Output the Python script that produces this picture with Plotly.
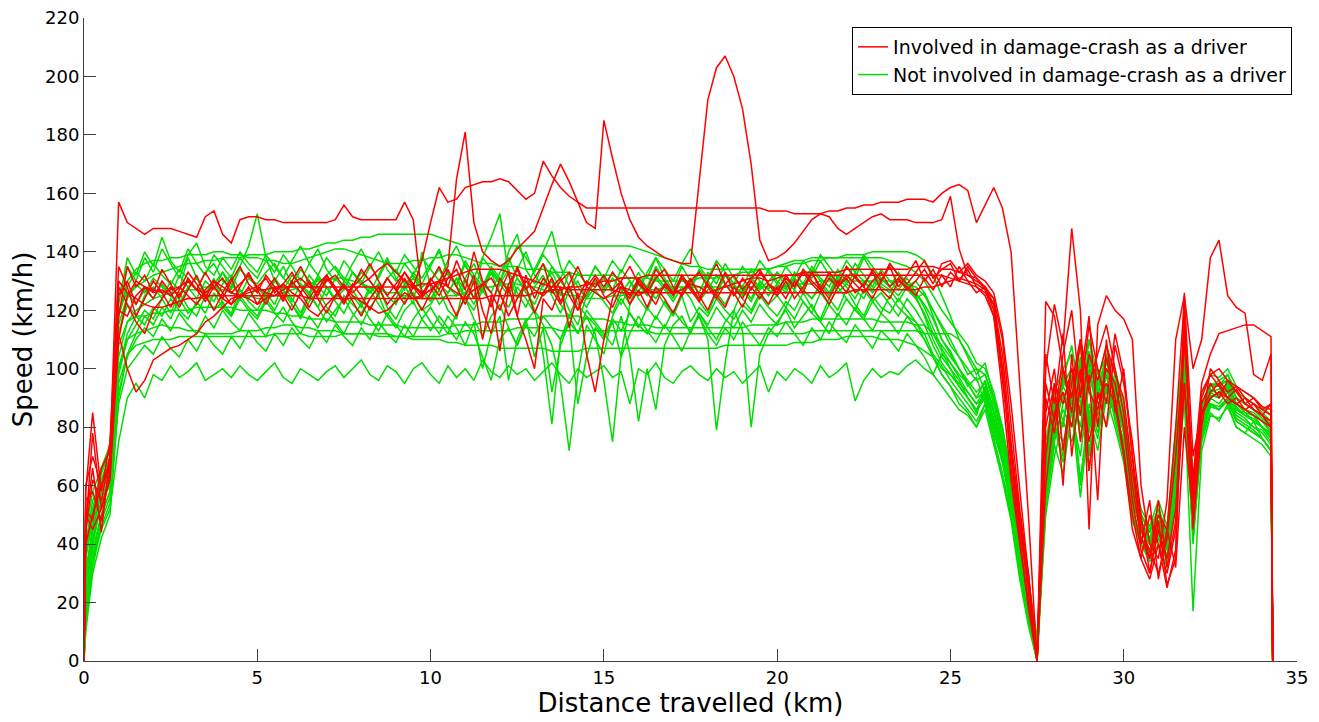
import plotly.graph_objects as go

# Distance grid (km): 0, 0.05, then every 0.25 km up to 34.25, then 34.3
DIST = [0.0, 0.05] + [round(0.25 * i, 2) for i in range(1, 138)] + [34.3]
ROW_LEN = [21, 20, 20, 20, 20, 20, 19]

# ---- speeds (km/h), rows: 0-4.75 | 5-9.75 | 10-14.75 | 15-19.75 | 20-24.75 | 25-29.75 | 30-34.3
green_1 = [
    [0, 15, 35, 45, 52, 75, 90, 95, 90, 98, 96, 101, 97, 99, 102, 96, 98, 100, 97, 101, 98],
    [96, 99, 102, 97, 95, 100, 98, 96, 99, 101, 97, 100, 103, 98, 96, 101, 99, 95, 100, 102],
    [98, 95, 101, 97, 100, 96, 103, 99, 97, 101, 98, 100, 96, 99, 102, 98, 95, 100, 97, 99],
    [101, 97, 99, 88, 100, 98, 102, 97, 95, 99, 101, 98, 96, 100, 97, 99, 95, 98, 101, 92],
    [99, 96, 100, 98, 95, 101, 97, 99, 102, 89, 96, 100, 97, 99, 98, 101, 103, 100, 98, 105],
    [102, 98, 95, 90, 92, 85, 75, 60, 40, 20, 5, 60, 80, 75, 85, 70, 95, 80, 90, 85],
    [75, 55, 45, 40, 48, 38, 60, 95, 50, 75, 85, 82, 88, 80, 78, 82, 76, 72, 0],
]
green_2 = [
    [0, 20, 38, 50, 58, 95, 105, 108, 109, 110, 110, 110, 111, 111, 111, 111, 111, 111, 111, 111, 111],
    [111, 111, 112, 112, 112, 112, 111, 111, 111, 111, 112, 112, 112, 112, 112, 112, 111, 111, 111, 111],
    [111, 111, 112, 112, 113, 113, 113, 113, 113, 113, 114, 114, 114, 114, 114, 113, 113, 113, 113, 113],
    [113, 113, 113, 113, 113, 113, 112, 112, 112, 112, 112, 112, 112, 112, 112, 112, 112, 112, 112, 112],
    [112, 112, 112, 112, 113, 113, 113, 113, 113, 113, 113, 113, 113, 113, 113, 113, 113, 112, 112, 112],
    [112, 110, 105, 100, 98, 90, 80, 62, 45, 28, 8, 55, 75, 88, 92, 80, 100, 85, 95, 90],
    [80, 60, 50, 45, 52, 40, 70, 105, 55, 85, 90, 92, 95, 88, 85, 84, 80, 78, 0],
]
green_3 = [
    [0, 25, 42, 55, 64, 100, 110, 112, 113, 114, 115, 114, 114, 113, 113, 112, 112, 112, 112, 113, 113],
    [113, 114, 114, 115, 115, 114, 114, 113, 113, 113, 112, 112, 112, 112, 111, 111, 111, 111, 110, 110],
    [110, 110, 109, 109, 108, 108, 108, 108, 107, 107, 107, 107, 107, 107, 106, 106, 106, 106, 107, 107],
    [107, 107, 107, 107, 107, 107, 107, 107, 107, 107, 107, 107, 107, 107, 108, 108, 108, 108, 108, 108],
    [108, 108, 109, 109, 109, 110, 110, 110, 111, 111, 111, 111, 110, 110, 110, 109, 108, 106, 104, 100],
    [98, 95, 92, 88, 90, 80, 70, 55, 35, 18, 3, 50, 70, 82, 75, 88, 65, 92, 80, 95],
    [70, 52, 42, 38, 45, 35, 55, 90, 45, 80, 88, 86, 90, 85, 83, 80, 78, 74, 0],
]
green_4 = [
    [0, 30, 45, 58, 66, 108, 116, 118, 118, 119, 119, 120, 120, 120, 121, 121, 121, 121, 121, 120, 120],
    [120, 120, 119, 119, 118, 118, 117, 117, 117, 116, 116, 116, 116, 115, 115, 115, 115, 114, 114, 114],
    [114, 114, 114, 115, 115, 115, 116, 116, 116, 117, 117, 117, 117, 118, 118, 118, 118, 118, 117, 117],
    [117, 116, 116, 115, 115, 115, 114, 114, 114, 114, 114, 114, 114, 114, 114, 114, 114, 115, 115, 115],
    [115, 116, 116, 116, 117, 117, 117, 117, 117, 117, 117, 117, 116, 116, 116, 116, 115, 115, 112, 108],
    [104, 100, 96, 92, 95, 85, 72, 58, 40, 22, 2, 65, 88, 95, 100, 92, 105, 90, 98, 95],
    [82, 58, 48, 42, 50, 42, 75, 110, 60, 88, 95, 94, 98, 92, 90, 88, 85, 82, 0],
]
green_5 = [
    [0, 40, 55, 60, 70, 112, 122, 118, 125, 128, 124, 130, 127, 138, 131, 126, 129, 133, 127, 135, 142],
    [153, 138, 130, 127, 132, 129, 125, 131, 128, 124, 127, 133, 130, 126, 129, 125, 122, 128, 131, 127],
    [124, 129, 133, 128, 125, 131, 127, 122, 129, 134, 126, 121, 128, 132, 125, 119, 127, 130, 124, 128],
    [131, 126, 122, 128, 133, 127, 124, 129, 126, 131, 128, 123, 127, 132, 129, 125, 128, 124, 130, 127],
    [125, 129, 131, 127, 124, 128, 132, 126, 129, 127, 124, 130, 128, 126, 131, 127, 124, 126, 120, 115],
    [110, 104, 98, 100, 92, 88, 78, 62, 42, 25, 4, 72, 90, 82, 98, 76, 104, 88, 92, 84],
    [76, 56, 44, 40, 46, 38, 68, 102, 52, 82, 92, 90, 94, 87, 84, 83, 80, 77, 0],
]
green_6 = [
    [0, 10, 30, 42, 50, 90, 105, 112, 118, 115, 121, 117, 124, 119, 122, 126, 120, 123, 118, 125, 121],
    [118, 124, 120, 126, 122, 117, 123, 127, 121, 118, 125, 122, 119, 124, 128, 121, 117, 123, 126, 120],
    [122, 127, 120, 117, 131, 124, 138, 145, 153, 132, 124, 128, 120, 115, 108, 95, 72, 98, 115, 110],
    [105, 118, 124, 119, 114, 121, 117, 123, 119, 125, 116, 121, 118, 124, 120, 117, 122, 119, 125, 121],
    [118, 123, 120, 126, 121, 117, 124, 120, 127, 122, 118, 125, 121, 119, 124, 120, 116, 112, 105, 101],
    [96, 92, 88, 84, 94, 80, 70, 52, 32, 15, 0, 58, 78, 92, 84, 100, 72, 90, 105, 88],
    [72, 50, 40, 36, 42, 34, 60, 98, 40, 78, 90, 88, 92, 84, 82, 80, 79, 75, 0],
]
green_7 = [
    [0, 35, 48, 62, 68, 118, 128, 133, 130, 136, 132, 129, 134, 131, 127, 133, 136, 130, 128, 134, 131],
    [129, 133, 136, 131, 128, 134, 130, 127, 132, 135, 131, 128, 133, 130, 126, 131, 134, 129, 132, 128],
    [130, 134, 128, 125, 131, 136, 129, 126, 133, 138, 131, 127, 134, 140, 147, 135, 128, 122, 118, 112],
    [96, 75, 105, 122, 130, 126, 132, 128, 124, 131, 127, 133, 129, 125, 132, 128, 126, 131, 127, 130],
    [133, 128, 131, 127, 134, 130, 126, 132, 129, 133, 130, 127, 131, 128, 125, 129, 126, 122, 117, 110],
    [105, 100, 94, 97, 88, 82, 72, 56, 38, 20, 2, 68, 86, 96, 90, 108, 82, 100, 92, 98],
    [84, 62, 50, 44, 52, 44, 72, 108, 58, 86, 94, 96, 98, 90, 88, 86, 83, 80, 0],
]
green_8 = [
    [0, 38, 52, 65, 72, 120, 126, 122, 127, 124, 129, 125, 122, 128, 131, 126, 123, 129, 132, 127, 124],
    [128, 125, 131, 127, 123, 129, 126, 132, 128, 124, 130, 127, 122, 128, 125, 131, 127, 124, 129, 126],
    [123, 129, 126, 131, 127, 122, 128, 134, 129, 125, 131, 126, 122, 129, 133, 127, 120, 115, 125, 130],
    [126, 131, 127, 122, 129, 125, 131, 127, 123, 128, 124, 118, 110, 79, 102, 120, 127, 123, 129, 125],
    [129, 126, 131, 127, 124, 129, 125, 131, 128, 124, 130, 126, 129, 127, 123, 128, 124, 119, 112, 106],
    [100, 96, 90, 86, 90, 78, 68, 54, 36, 18, 1, 64, 84, 90, 96, 84, 98, 86, 100, 90],
    [78, 54, 46, 40, 50, 40, 65, 100, 48, 80, 90, 92, 93, 86, 85, 82, 80, 76, 0],
]
green_9 = [
    [0, 22, 40, 55, 60, 100, 112, 118, 115, 121, 118, 124, 120, 117, 123, 119, 126, 121, 118, 124, 120],
    [117, 123, 119, 116, 122, 118, 125, 121, 116, 120, 124, 119, 115, 121, 125, 118, 114, 120, 123, 117],
    [121, 116, 112, 119, 124, 117, 111, 118, 122, 114, 108, 116, 120, 105, 81, 110, 118, 112, 120, 116],
    [112, 108, 118, 105, 82, 100, 86, 108, 115, 118, 112, 119, 114, 110, 116, 120, 113, 80, 105, 112],
    [116, 120, 114, 118, 122, 116, 112, 119, 115, 121, 117, 113, 119, 116, 112, 118, 114, 110, 104, 98],
    [94, 90, 86, 82, 88, 76, 64, 50, 30, 14, 0, 62, 82, 70, 92, 60, 88, 78, 95, 86],
    [74, 52, 42, 38, 44, 36, 62, 96, 44, 78, 88, 87, 90, 83, 81, 79, 76, 72, 0],
]
green_10 = [
    [0, 36, 50, 62, 70, 115, 125, 128, 130, 132, 133, 134, 135, 136, 136, 137, 137, 138, 138, 138, 139],
    [139, 139, 140, 140, 140, 141, 141, 142, 143, 143, 144, 144, 145, 145, 146, 146, 146, 146, 146, 146],
    [146, 145, 144, 143, 142, 142, 142, 142, 142, 142, 142, 142, 142, 142, 142, 142, 142, 142, 142, 142],
    [142, 142, 142, 142, 141, 140, 139, 138, 137, 136, 135, 135, 134, 134, 134, 134, 134, 134, 134, 134],
    [135, 136, 137, 137, 138, 138, 138, 138, 138, 138, 138, 138, 138, 137, 136, 135, 133, 130, 125, 120],
    [116, 112, 108, 102, 100, 92, 80, 64, 44, 24, 3, 75, 92, 100, 105, 96, 110, 98, 104, 100],
    [88, 64, 52, 46, 55, 46, 78, 112, 62, 92, 98, 97, 100, 94, 92, 90, 87, 84, 0],
]
green_11 = [
    [0, 30, 46, 60, 68, 118, 130, 134, 136, 137, 137, 138, 138, 139, 139, 139, 140, 140, 139, 139, 138],
    [138, 137, 137, 136, 136, 137, 138, 139, 140, 141, 141, 140, 139, 138, 137, 136, 136, 136, 137, 137],
    [138, 138, 139, 139, 138, 137, 136, 136, 135, 135, 135, 134, 134, 134, 133, 133, 133, 132, 132, 132],
    [132, 132, 131, 131, 131, 131, 130, 130, 130, 130, 130, 131, 131, 131, 132, 132, 133, 133, 134, 134],
    [135, 135, 136, 136, 137, 137, 138, 138, 139, 139, 139, 140, 140, 140, 140, 140, 139, 137, 132, 125],
    [118, 110, 104, 98, 102, 90, 78, 60, 40, 22, 2, 70, 88, 94, 100, 88, 106, 94, 100, 96],
    [86, 60, 50, 44, 52, 42, 72, 106, 56, 88, 94, 95, 96, 90, 88, 86, 84, 81, 0],
]
green_12 = [
    [0, 44, 58, 66, 74, 125, 135, 130, 138, 133, 141, 136, 131, 139, 143, 135, 132, 138, 134, 140, 136],
    [133, 139, 135, 131, 137, 142, 136, 132, 138, 134, 130, 136, 141, 135, 131, 137, 133, 139, 135, 131],
    [136, 140, 133, 129, 137, 132, 128, 135, 131, 127, 134, 140, 132, 128, 135, 130, 126, 133, 129, 135],
    [131, 127, 134, 130, 126, 133, 138, 131, 127, 135, 130, 126, 133, 129, 136, 131, 128, 134, 130, 127],
    [133, 130, 127, 134, 131, 137, 132, 128, 135, 131, 138, 133, 129, 136, 132, 128, 130, 126, 118, 110],
    [106, 100, 95, 90, 96, 86, 74, 58, 38, 20, 2, 66, 84, 98, 88, 104, 80, 96, 108, 92],
    [80, 58, 48, 42, 48, 40, 70, 104, 54, 84, 93, 91, 95, 88, 86, 84, 82, 78, 0],
]
green_13 = [
    [0, 18, 36, 50, 58, 98, 110, 115, 120, 117, 124, 119, 126, 121, 118, 125, 131, 122, 119, 127, 123],
    [120, 126, 122, 129, 124, 119, 126, 121, 128, 123, 119, 125, 121, 127, 122, 118, 124, 129, 122, 140],
    [128, 122, 126, 131, 124, 120, 127, 133, 125, 121, 128, 124, 119, 126, 130, 122, 118, 125, 121, 127],
    [123, 119, 126, 130, 124, 120, 127, 122, 118, 125, 129, 123, 119, 126, 122, 128, 124, 120, 126, 122],
    [125, 121, 127, 123, 119, 126, 122, 128, 124, 120, 127, 123, 126, 122, 118, 124, 120, 115, 108, 102],
    [98, 94, 90, 85, 91, 80, 68, 52, 34, 16, 1, 56, 76, 86, 80, 94, 70, 86, 98, 82],
    [70, 50, 42, 36, 44, 35, 58, 94, 42, 76, 87, 86, 89, 82, 80, 78, 76, 72, 0],
]
green_14 = [
    [0, 28, 44, 58, 64, 112, 124, 129, 126, 131, 128, 125, 132, 128, 124, 130, 127, 133, 129, 125, 131],
    [128, 124, 130, 135, 129, 126, 132, 128, 125, 131, 127, 133, 129, 126, 132, 138, 131, 127, 133, 129],
    [135, 141, 132, 128, 136, 130, 126, 133, 129, 140, 146, 134, 129, 136, 131, 125, 133, 128, 124, 131],
    [127, 133, 129, 125, 131, 128, 135, 130, 126, 132, 128, 134, 130, 126, 133, 129, 125, 131, 128, 134],
    [130, 127, 133, 129, 135, 131, 128, 134, 130, 136, 132, 128, 134, 130, 127, 131, 126, 121, 114, 107],
    [102, 97, 92, 88, 93, 83, 72, 56, 36, 19, 1, 62, 82, 94, 88, 102, 78, 94, 104, 90],
    [78, 56, 46, 41, 48, 39, 68, 102, 50, 82, 91, 90, 93, 86, 84, 82, 80, 77, 0],
]
green_15 = [
    [0, 12, 32, 46, 54, 92, 104, 110, 114, 111, 117, 113, 119, 115, 112, 118, 114, 120, 116, 113, 119],
    [115, 111, 117, 121, 116, 112, 118, 114, 120, 116, 112, 118, 122, 117, 113, 119, 115, 111, 117, 121],
    [116, 112, 118, 114, 108, 116, 100, 112, 118, 96, 110, 117, 104, 114, 92, 108, 116, 88, 104, 114],
    [110, 116, 104, 112, 118, 113, 109, 115, 111, 106, 113, 118, 112, 108, 114, 110, 116, 112, 108, 114],
    [111, 116, 112, 108, 114, 110, 116, 112, 109, 115, 111, 107, 113, 110, 106, 112, 108, 104, 98, 94],
    [90, 86, 84, 80, 86, 74, 62, 48, 28, 12, 0, 52, 74, 64, 86, 56, 84, 72, 90, 80],
    [68, 48, 40, 34, 40, 32, 55, 90, 17, 72, 84, 83, 87, 80, 78, 76, 74, 70, 0],
]
green_16 = [
    [0, 42, 50, 64, 72, 122, 138, 132, 140, 135, 145, 137, 133, 141, 136, 132, 139, 135, 131, 138, 134],
    [131, 137, 133, 139, 135, 130, 136, 141, 134, 130, 137, 133, 129, 135, 140, 134, 130, 136, 132, 138],
    [134, 130, 137, 142, 135, 131, 138, 134, 130, 136, 142, 138, 133, 139, 135, 131, 137, 133, 129, 135],
    [131, 137, 133, 139, 135, 131, 138, 134, 130, 136, 141, 135, 131, 137, 133, 129, 135, 131, 137, 133],
    [129, 135, 131, 137, 133, 139, 135, 131, 137, 133, 139, 135, 131, 128, 133, 129, 125, 118, 110, 104],
    [100, 94, 90, 86, 92, 82, 70, 55, 36, 18, 1, 64, 85, 96, 108, 90, 102, 84, 98, 92],
    [80, 58, 46, 42, 50, 40, 70, 100, 52, 84, 92, 93, 94, 88, 86, 85, 82, 79, 0],
]
green_17 = [
    [0, 16, 34, 48, 56, 88, 100, 104, 108, 105, 111, 107, 104, 110, 106, 112, 108, 105, 111, 107, 113],
    [109, 106, 112, 108, 114, 110, 107, 113, 109, 115, 111, 108, 114, 110, 116, 112, 109, 115, 111, 117],
    [113, 118, 114, 110, 116, 112, 104, 96, 110, 114, 108, 115, 111, 118, 114, 110, 116, 112, 118, 115],
    [111, 117, 113, 119, 115, 112, 118, 114, 120, 116, 113, 119, 115, 121, 117, 114, 120, 116, 122, 118],
    [115, 121, 117, 123, 119, 116, 122, 118, 124, 120, 117, 123, 119, 125, 121, 118, 116, 110, 104, 98],
    [94, 88, 85, 80, 88, 76, 64, 50, 30, 14, 0, 60, 80, 68, 90, 62, 86, 76, 94, 84],
    [72, 50, 42, 37, 43, 35, 60, 95, 42, 77, 88, 86, 90, 82, 80, 78, 76, 72, 0],
]
green_18 = [
    [0, 26, 40, 54, 62, 104, 116, 120, 122, 124, 125, 126, 126, 127, 127, 128, 128, 127, 126, 125, 125],
    [124, 124, 125, 126, 127, 128, 129, 130, 130, 131, 131, 130, 129, 128, 127, 126, 126, 125, 125, 124],
    [124, 124, 125, 125, 126, 127, 128, 128, 129, 129, 129, 128, 128, 127, 126, 126, 125, 125, 124, 124],
    [124, 125, 125, 126, 126, 127, 127, 128, 128, 128, 128, 128, 128, 128, 128, 128, 128, 128, 128, 128],
    [128, 128, 129, 129, 129, 130, 130, 130, 130, 130, 130, 130, 130, 130, 130, 129, 128, 125, 120, 114],
    [108, 104, 100, 96, 98, 88, 76, 60, 42, 24, 2, 68, 88, 80, 98, 84, 110, 92, 102, 94],
    [82, 60, 50, 44, 52, 44, 74, 108, 58, 86, 94, 94, 96, 90, 88, 86, 84, 80, 0],
]

red_1 = [
    [0, 45, 62, 55, 70, 157, 150, 148, 146, 148, 148, 148, 147, 146, 145, 152, 154, 146, 143, 151, 152],
    [152, 151, 151, 150, 150, 150, 150, 150, 150, 151, 156, 152, 151, 151, 151, 151, 151, 157, 151, 125],
    [127, 130, 128, 126, 124, 127, 129, 131, 126, 118, 124, 130, 127, 125, 128, 131, 125, 120, 128, 126],
    [124, 126, 128, 127, 125, 127, 126, 128, 126, 127, 129, 128, 126, 127, 128, 129, 130, 131, 131, 130],
    [131, 132, 132, 133, 133, 133, 133, 133, 134, 134, 134, 134, 134, 134, 134, 134, 135, 135, 135, 134],
    [134, 133, 132, 131, 128, 122, 100, 70, 45, 30, 0, 60, 85, 92, 80, 100, 75, 90, 95, 88],
    [70, 45, 35, 50, 40, 30, 45, 95, 55, 85, 92, 95, 90, 88, 86, 84, 82, 80, 0],
]
red_2 = [
    [0, 40, 50, 60, 66, 120, 118, 125, 128, 127, 126, 127, 128, 125, 122, 127, 130, 128, 126, 125, 124],
    [122, 124, 127, 129, 126, 124, 120, 118, 122, 125, 128, 125, 123, 121, 119, 120, 123, 126, 124, 125],
    [127, 130, 135, 165, 181, 150, 140, 137, 135, 137, 141, 144, 147, 155, 163, 170, 164, 157, 150, 148],
    [185, 172, 160, 151, 145, 142, 140, 138, 137, 136, 136, 165, 192, 203, 207, 200, 189, 170, 144, 137],
    [138, 140, 143, 147, 151, 153, 152, 148, 146, 148, 150, 152, 153, 151, 151, 151, 150, 150, 150, 151],
    [159, 141, 132, 130, 128, 124, 100, 70, 45, 25, 0, 123, 118, 100, 90, 110, 95, 105, 115, 100],
    [85, 60, 42, 35, 50, 45, 80, 124, 70, 85, 90, 92, 90, 88, 90, 86, 84, 88, 0],
]
red_3 = [
    [0, 50, 45, 52, 62, 110, 125, 130, 128, 126, 127, 125, 128, 130, 127, 126, 128, 124, 122, 125, 127],
    [128, 126, 125, 127, 129, 131, 128, 126, 130, 132, 128, 126, 129, 131, 134, 136, 133, 130, 128, 137],
    [150, 162, 157, 158, 162, 163, 164, 164, 165, 164, 161, 158, 160, 171, 166, 162, 159, 157, 155, 155],
    [155, 155, 155, 155, 155, 155, 155, 155, 155, 155, 155, 155, 155, 155, 155, 155, 155, 155, 155, 154],
    [154, 154, 153, 153, 153, 153, 154, 154, 155, 155, 156, 156, 157, 157, 157, 158, 158, 158, 157, 160],
    [162, 163, 161, 150, 156, 162, 155, 140, 95, 50, 0, 100, 122, 108, 148, 120, 45, 115, 125, 120],
    [117, 110, 60, 40, 35, 55, 110, 125, 100, 110, 138, 144, 125, 121, 119, 98, 96, 105, 0],
]
red_4 = [
    [0, 55, 58, 48, 65, 112, 100, 92, 96, 103, 105, 107, 108, 110, 112, 116, 118, 121, 124, 125, 126],
    [127, 127, 128, 128, 128, 128, 128, 128, 128, 128, 128, 128, 128, 128, 128, 128, 128, 128, 128, 129],
    [129, 130, 131, 132, 133, 134, 134, 134, 134, 133, 132, 131, 130, 129, 128, 128, 127, 127, 127, 127],
    [127, 127, 126, 126, 126, 126, 126, 126, 126, 126, 126, 126, 126, 126, 126, 126, 126, 126, 126, 126],
    [126, 126, 126, 126, 126, 126, 126, 126, 126, 127, 127, 127, 127, 127, 127, 127, 127, 128, 128, 129],
    [130, 131, 130, 129, 127, 124, 110, 80, 52, 30, 0, 80, 95, 88, 100, 84, 105, 96, 108, 98],
    [90, 65, 45, 38, 30, 42, 70, 110, 62, 95, 105, 112, 113, 114, 115, 115, 113, 111, 0],
]
red_5 = [
    [0, 60, 70, 60, 68, 125, 130, 122, 128, 124, 130, 126, 121, 127, 132, 125, 120, 126, 131, 124, 128],
    [122, 127, 131, 125, 120, 126, 130, 124, 119, 125, 129, 123, 118, 124, 128, 122, 126, 131, 125, 120],
    [126, 130, 124, 118, 125, 132, 120, 112, 126, 133, 118, 110, 100, 124, 120, 128, 114, 126, 105, 92],
    [110, 124, 130, 122, 127, 121, 128, 124, 119, 126, 131, 125, 120, 127, 133, 126, 121, 128, 124, 129],
    [125, 130, 124, 128, 133, 127, 122, 128, 131, 126, 129, 133, 127, 124, 130, 128, 125, 131, 127, 132],
    [128, 135, 130, 126, 128, 120, 96, 72, 48, 26, 0, 70, 95, 60, 105, 75, 98, 55, 110, 85],
    [100, 70, 40, 55, 28, 45, 32, 80, 50, 88, 95, 90, 96, 92, 88, 90, 86, 84, 0],
]
red_6 = [
    [0, 45, 78, 52, 64, 118, 135, 128, 132, 126, 134, 129, 124, 131, 127, 133, 128, 124, 130, 135, 129],
    [126, 132, 128, 123, 130, 135, 129, 125, 131, 127, 122, 128, 134, 130, 126, 131, 127, 133, 129, 125],
    [131, 127, 134, 128, 122, 130, 110, 125, 106, 128, 118, 132, 124, 131, 127, 122, 129, 135, 128, 132],
    [128, 133, 129, 125, 131, 127, 134, 130, 126, 132, 128, 124, 130, 136, 129, 125, 131, 127, 133, 129],
    [126, 132, 128, 134, 130, 127, 133, 129, 135, 131, 128, 134, 130, 136, 132, 129, 133, 137, 131, 134],
    [136, 130, 134, 128, 125, 118, 92, 62, 40, 20, 0, 105, 88, 112, 70, 96, 118, 80, 104, 90],
    [72, 50, 35, 28, 40, 25, 38, 112, 60, 92, 98, 94, 90, 93, 88, 86, 84, 82, 0],
]
red_7 = [
    [0, 52, 48, 66, 72, 130, 126, 124, 122, 121, 121, 122, 123, 124, 124, 125, 125, 125, 125, 125, 125],
    [125, 125, 125, 125, 125, 125, 124, 124, 124, 124, 124, 124, 124, 124, 124, 124, 124, 124, 124, 124],
    [124, 124, 124, 124, 124, 124, 124, 125, 125, 125, 125, 125, 126, 126, 127, 127, 128, 128, 129, 129],
    [130, 130, 131, 131, 131, 132, 132, 132, 132, 132, 132, 132, 132, 132, 132, 132, 132, 132, 132, 132],
    [132, 132, 132, 132, 132, 132, 132, 132, 132, 132, 132, 132, 132, 132, 132, 132, 132, 132, 132, 132],
    [131, 130, 129, 128, 126, 122, 105, 75, 50, 28, 0, 90, 78, 100, 85, 110, 92, 86, 100, 95],
    [80, 55, 38, 30, 45, 35, 52, 95, 48, 84, 90, 92, 88, 90, 86, 88, 84, 80, 0],
]
red_8 = [
    [0, 58, 85, 58, 75, 135, 128, 118, 124, 130, 126, 121, 127, 133, 129, 124, 130, 126, 122, 128, 133],
    [127, 122, 128, 124, 130, 126, 121, 127, 132, 128, 123, 129, 125, 120, 126, 131, 127, 122, 128, 124],
    [130, 135, 128, 137, 130, 124, 129, 121, 131, 126, 135, 128, 119, 126, 131, 123, 128, 120, 126, 131],
    [125, 121, 128, 124, 130, 126, 122, 129, 125, 131, 127, 123, 129, 125, 121, 128, 124, 130, 126, 122],
    [128, 124, 130, 126, 133, 128, 124, 130, 126, 132, 128, 124, 130, 135, 128, 132, 137, 130, 134, 128],
    [133, 130, 135, 131, 127, 118, 100, 66, 42, 18, 0, 85, 100, 72, 95, 110, 65, 92, 80, 108],
    [95, 75, 50, 30, 48, 26, 35, 126, 45, 80, 100, 96, 92, 94, 90, 88, 86, 88, 0],
]
red_9 = [
    [0, 48, 66, 44, 70, 128, 122, 116, 112, 120, 124, 128, 125, 130, 127, 123, 128, 131, 126, 129, 132],
    [128, 131, 126, 129, 133, 128, 124, 129, 132, 127, 123, 128, 131, 136, 130, 125, 129, 133, 128, 126],
    [129, 125, 131, 134, 127, 140, 130, 126, 120, 129, 134, 127, 131, 136, 126, 130, 133, 124, 130, 128],
    [132, 127, 130, 135, 129, 126, 131, 134, 128, 125, 130, 133, 128, 124, 129, 132, 127, 131, 134, 129],
    [127, 131, 128, 133, 129, 126, 131, 128, 132, 129, 126, 130, 133, 128, 131, 127, 130, 134, 129, 136],
    [137, 133, 136, 132, 130, 126, 112, 88, 58, 30, 0, 95, 82, 105, 120, 90, 115, 100, 88, 112],
    [98, 70, 48, 35, 55, 32, 48, 118, 55, 90, 98, 100, 96, 94, 92, 90, 87, 86, 0],
]

GREEN = [green_1, green_2, green_3, green_4, green_5, green_6, green_7, green_8, green_9,
         green_10, green_11, green_12, green_13, green_14, green_15, green_16, green_17, green_18]
RED = [red_1, red_2, red_3, red_4, red_5, red_6, red_7, red_8, red_9]

RED_NAME = "Involved in damage-crash as a driver"
GREEN_NAME = "Not involved in damage-crash as a driver"
RED_COLOR = "#ff0000"
GREEN_COLOR = "#00dd00"


def flatten(rows, label):
    for k, (r, n) in enumerate(zip(rows, ROW_LEN)):
        if len(r) != n:
            raise ValueError(f"{label} row {k}: {len(r)} values, expected {n}")
    return [v for r in rows for v in r]


fig = go.Figure()
for i, tr in enumerate(GREEN):
    fig.add_trace(go.Scatter(
        x=DIST, y=flatten(tr, f"green_{i+1}"), mode="lines",
        line=dict(color=GREEN_COLOR, width=1.5),
        name=GREEN_NAME, legendgroup="g", legendrank=2,
        showlegend=(i == 0), hoverinfo="skip"))
for i, tr in enumerate(RED):
    fig.add_trace(go.Scatter(
        x=DIST, y=flatten(tr, f"red_{i+1}"), mode="lines",
        line=dict(color=RED_COLOR, width=1.5),
        name=RED_NAME, legendgroup="r", legendrank=1,
        showlegend=(i == 0), hoverinfo="skip"))

axis_color = "#404040"
fig.update_layout(
    width=1311, height=714,
    margin=dict(l=76, r=22, t=10, b=61),
    paper_bgcolor="white", plot_bgcolor="white",
    font=dict(family="DejaVu Sans", color="black"),
    xaxis=dict(
        range=[0, 35], tickvals=[0, 5, 10, 15, 20, 25, 30, 35],
        ticks="inside", ticklen=12, tickcolor=axis_color, tickwidth=1,
        showline=True, linecolor=axis_color, linewidth=1,
        showgrid=False, zeroline=False, tickfont=dict(size=18),
        ticklabeloverflow="allow",
        title=dict(text="Distance travelled (km)", font=dict(size=26), standoff=2),
        automargin=False,
    ),
    yaxis=dict(
        range=[0, 220], tickvals=list(range(0, 221, 20)),
        ticks="inside", ticklen=12, tickcolor=axis_color, tickwidth=1,
        showline=True, linecolor=axis_color, linewidth=1,
        showgrid=False, zeroline=False, tickfont=dict(size=18),
        ticklabeloverflow="allow",
        title=dict(text="Speed (km/h)", font=dict(size=26), standoff=6),
        automargin=False,
    ),
    legend=dict(
        x=0.9959, xanchor="right", y=0.986, yanchor="top",
        bgcolor="white", bordercolor="black", borderwidth=1,
        font=dict(size=19), traceorder="grouped", tracegroupgap=0,
    ),
)

fig.write_html("out.html")
